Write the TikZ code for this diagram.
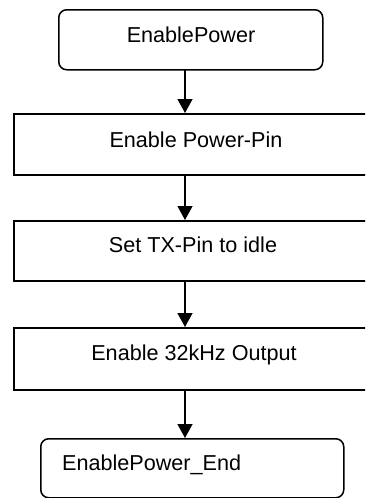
\documentclass[tikz,border=0pt]{standalone}
\usepackage{fontspec}
\setmainfont{Liberation Sans}
\usetikzlibrary{arrows.meta}
\begin{document}
\begin{tikzpicture}[x=1pt,y=-1pt,
  every node/.style={font=\fontsize{21.6}{26}\selectfont, inner sep=0pt},
  stepbox/.style={draw, line width=1.8pt, rectangle, anchor=north west},
  termbox/.style={draw, line width=1.5pt, rounded corners=8pt, anchor=north west},
  flow/.style={line width=1.4pt, -{Triangle[length=14pt,width=15pt]}}]
\useasboundingbox (0,0) rectangle (365,498);
\clip (0,0) rectangle (365,498);
% terminators and process steps
\node[termbox, minimum width=264pt, minimum height=60pt] (start) at (58,9) {};
\node[stepbox, minimum width=364pt, minimum height=61pt] (s1) at (13,113) {};
\node[stepbox, minimum width=364pt, minimum height=60pt] (s2) at (13,220) {};
\node[stepbox, minimum width=364pt, minimum height=62pt] (s3) at (13,327) {};
\node[termbox, minimum width=303pt, minimum height=59pt] (stop) at (40,438) {};
% captions
\node (tstart) at (191,35) {EnablePower};
\node (t1) at (196,140) {Enable Power-Pin};
\node (t2) at (193,245) {Set TX-Pin to idle};
\node (t3) at (194,355) {Enable 32kHz Output};
\node[anchor=west] (tstop) at (62,465) {EnablePower\_End};
% connectors
\coordinate (a0) at (185,69);
\draw[flow] (a0) -- (a0 |- s1.north);
\coordinate (a1) at (185,174);
\draw[flow] (a1) -- (a1 |- s2.north);
\coordinate (a2) at (185,280);
\draw[flow] (a2) -- (a2 |- s3.north);
\coordinate (a3) at (185,389);
\draw[flow] (a3) -- (a3 |- stop.north);
\end{tikzpicture}
\end{document}
